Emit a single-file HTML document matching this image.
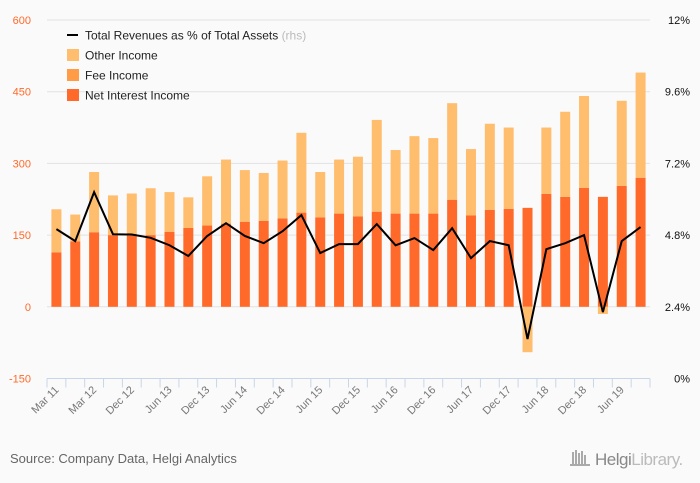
<!DOCTYPE html>
<html><head><meta charset="utf-8"><style>
body{margin:0;background:#fafafa;font-family:"Liberation Sans",sans-serif}
svg{display:block}
</style></head><body>
<svg id="chart" width="700" height="483">
<rect width="700" height="483" fill="#fafafa"/>
<g id="grid"></g><g id="bars"></g><g id="line"></g><g id="axes"></g>
<g font-size="12" fill="#222">
<line x1="67" y1="35" x2="78" y2="35" stroke="#000" stroke-width="2"/>
<text x="85" y="39.5">Total Revenues as % of Total Assets <tspan fill="#bbb">(rhs)</tspan></text>
<rect x="67" y="49" width="12" height="12" fill="#ffbd6e"/>
<text x="85" y="59.5">Other Income</text>
<rect x="67" y="69" width="12" height="12" fill="#ff9c45"/>
<text x="85" y="79.5">Fee Income</text>
<rect x="67" y="89" width="12" height="12" fill="#ff6a2a"/>
<text x="85" y="99.5">Net Interest Income</text>
</g>
<text x="10" y="463" font-size="13" fill="#666">Source: Company Data, Helgi Analytics</text>
<g>
<g fill="#aaa"><rect x="572" y="452" width="2" height="12"/><rect x="575" y="450" width="2" height="14"/><rect x="578" y="453" width="2" height="11"/><rect x="581" y="451" width="2" height="13"/><rect x="584" y="455" width="2" height="9"/><rect x="570" y="464" width="20" height="2"/></g>
<text x="595" y="465" font-size="17" fill="#999" letter-spacing="-0.5"><tspan fill="#888">Helgi</tspan><tspan fill="#bbb">Library.</tspan></text>
</g>
</svg>
<script>
const categories=["Mar 11","Sep 11","Mar 12","Sep 12","Dec 12","Mar 13","Jun 13","Sep 13","Dec 13","Mar 14","Jun 14","Sep 14","Dec 14","Mar 15","Jun 15","Sep 15","Dec 15","Mar 16","Jun 16","Sep 16","Dec 16","Mar 17","Jun 17","Sep 17","Dec 17","Mar 18","Jun 18","Sep 18","Dec 18","Mar 19","Jun 19","Sep 19"];
const tickLabels=["Mar 11","","Mar 12","","Dec 12","","Jun 13","","Dec 13","","Jun 14","","Dec 14","","Jun 15","","Dec 15","","Jun 16","","Dec 16","","Jun 17","","Dec 17","","Jun 18","","Dec 18","","Jun 19",""];
const netInterest=[114,137,156,150,152,150,157,165,170,174,178,180,185,197,187,195,189,199,195,195,195,224,191,203,205,207,236,230,249,230,253,270];
const feeIncome=[0,0,0,0,0,0,0,0,0,0,0,0,0,0,0,0,0,0,0,0,0,0,0,0,0,0,0,0,0,0,0,0];
const otherIncome=[90,56,126,83,85,98,83,64,103,134,108,100,121,167,95,113,125,192,133,162,158,202,139,180,170,-95,139,178,192,-15,178,220];
const revPct=[5.0,4.6,6.24,4.83,4.82,4.71,4.46,4.1,4.77,5.2,4.77,4.53,4.93,5.47,4.2,4.5,4.5,5.17,4.46,4.7,4.3,5.03,4.03,4.6,4.46,1.32,4.33,4.53,4.8,2.22,4.6,5.07];
const leftTicks=[600,450,300,150,0,-150];
const rightTicks=[12,9.6,7.2,4.8,2.4,0];
const NS="http://www.w3.org/2000/svg";
const X0=47,X1=650,Y600=20,Yneg=378.5;
const bw=(X1-X0)/categories.length;
const y=v=>Y600+(600-v)*(Yneg-Y600)/750;
const yr=p=>Yneg-p*(Yneg-Y600)/12;
const xc=i=>X0+bw*(i+0.5);
function mk(tag,attrs,parent){const e=document.createElementNS(NS,tag);for(const k in attrs)e.setAttribute(k,attrs[k]);document.getElementById(parent).appendChild(e);return e;}
leftTicks.forEach((t,i)=>{
 if(t>-150){const g=mk('line',{x1:X0,x2:X1,y1:y(t),y2:y(t),stroke:'#e2e2e2','stroke-width':1},'grid');
 
 }
 const l=mk('text',{x:31,y:y(t)+4,'text-anchor':'end','font-size':11,fill:'#ff6a2a'},'axes');l.textContent=t;
 
 
});
rightTicks.forEach(t=>{
 const l=mk('text',{x:690,y:yr(t)+4,'text-anchor':'end','font-size':11,fill:'#111'},'axes');l.textContent=(t===0||t===12?t:t.toFixed(1))+'%';
 
 
});
categories.forEach((c,i)=>{
 const x=xc(i)-5;
 let pos=0,neg=0;
 [[netInterest[i],'#ff6a2a','bar-net-interest'],[feeIncome[i],'#ff9c45','bar-fee'],[otherIncome[i],'#ffbd6e','bar-other']].forEach(([v,col,nm])=>{
  if(!v)return;let top,h;
  if(v>0){top=y(pos+v);h=y(pos)-top;pos+=v;}else{top=y(neg);h=y(neg+v)-top;neg+=v;}
  const r=mk('rect',{x:x,y:top,width:10,height:h,fill:col},'bars');
  
  
 });
});
const pl=mk('polyline',{points:revPct.map((p,i)=>xc(i)+','+yr(p)).join(' '),fill:'none',stroke:'#000','stroke-width':2,'stroke-linejoin':'miter'},'line');


const ax=mk('line',{x1:X0,x2:X1,y1:Yneg,y2:Yneg,stroke:'#c8d6e8','stroke-width':1},'axes');


for(let i=0;i<=categories.length;i++){
 const t=mk('line',{x1:X0+bw*i,x2:X0+bw*i,y1:Yneg,y2:Yneg+9,stroke:'#c8d6e8','stroke-width':1},'axes');
 
 
}
tickLabels.forEach((s,i)=>{
 if(!s)return;
 const x=xc(i)+3,yy=Yneg+12;
 const l=mk('text',{x:x,y:yy,'text-anchor':'end','font-size':11,fill:'#777',transform:`rotate(-45 ${x} ${yy})`},'axes');l.textContent=s;
 
 
});
</script>
</body></html>
